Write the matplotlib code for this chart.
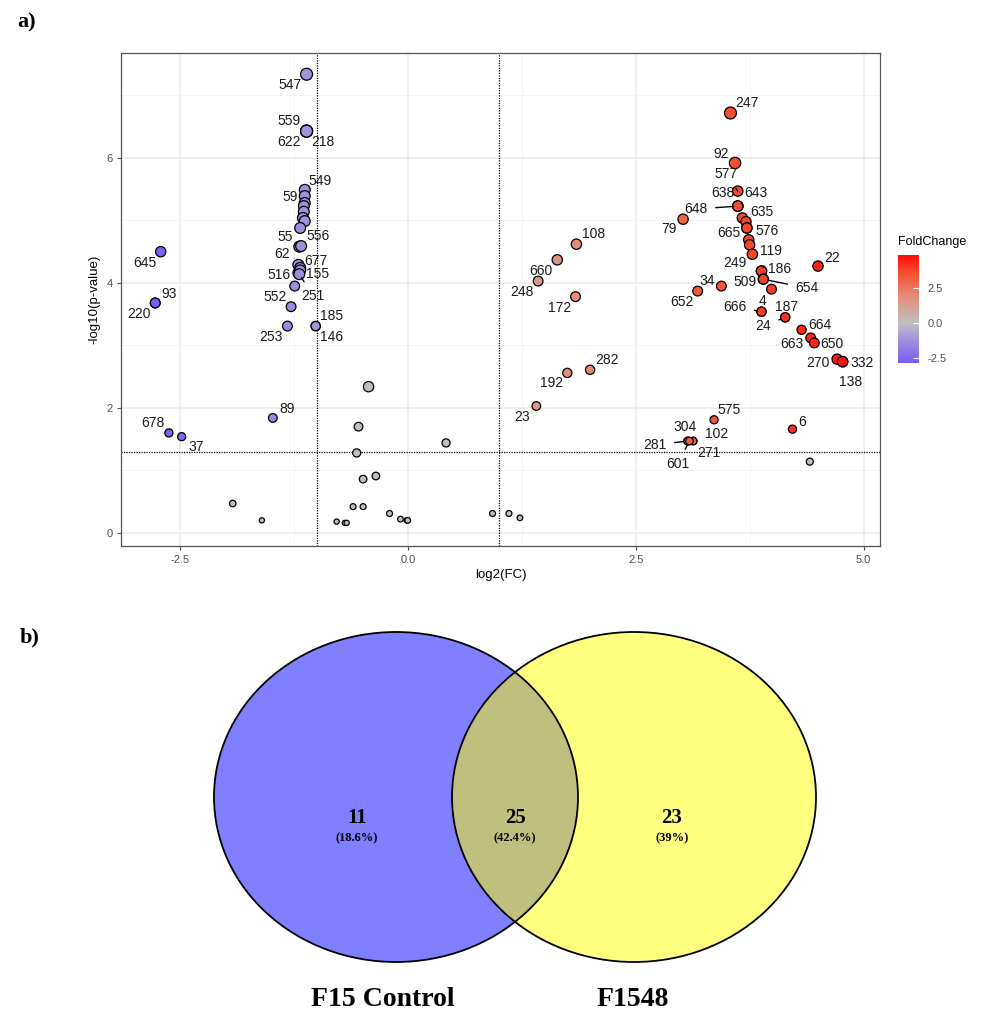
import matplotlib
matplotlib.use("Agg")
import matplotlib.pyplot as plt
import numpy as np
from matplotlib.colors import LinearSegmentedColormap, Normalize
from matplotlib.patches import Ellipse
from matplotlib.cm import ScalarMappable

plt.rcParams['font.family'] = ['Liberation Sans', 'DejaVu Sans']

# ---------------- volcano data ----------------
labels = ["547", "559", "622", "218", "549", "59", "", "", "", "", "", "",
          "55", "556", "62", "677", "516", "155", "251", "", "552", "253",
          "185", "146", "645", "93", "220", "678", "37", "89",
          # grey / non-significant
          "", "", "", "", "", "", "", "", "", "",
          "", "", "", "", "", "", "", "", "", "", "",
          # right side
          "247", "92", "577", "638", "643", "648", "79", "635", "", "665", "576",
          "", "", "249", "119", "186", "509", "654", "", "22", "34", "652",
          "4", "666", "187", "24", "664", "663", "650", "270", "332", "138",
          "575", "6", "304", "102", "281", "271", "601",
          "108", "660", "248", "172", "282", "192", "23"]
log2fc = [-1.11, -1.11, -1.11, -1.11, -1.13, -1.13, -1.13, -1.14, -1.14, -1.15, -1.13, -1.18,
          -1.19, -1.17, -1.20, -1.18, -1.20, -1.18, -1.19, -1.24, -1.28, -1.32,
          -1.01, -1.01, -2.71, -2.77, -2.77, -2.62, -2.48, -1.48,
          -0.43, -0.54, -0.56, 0.42, -0.35, -0.49, -1.92, -1.60, -0.60, -0.49,
          -0.78, -0.69, -0.67, -0.20, -0.08, -0.01, 0.00, 0.93, 1.11, 1.23, 4.41,
          3.54, 3.59, 3.62, 3.62, 3.62, 3.62, 3.02, 3.67, 3.71, 3.72, 3.72,
          3.74, 3.75, 3.78, 3.88, 3.88, 3.90, 3.90, 3.99, 4.50, 3.44, 3.18,
          3.88, 3.88, 4.14, 4.14, 4.32, 4.42, 4.46, 4.71, 4.77, 4.77,
          3.36, 4.22, 3.07, 3.13, 3.07, 3.13, 3.09,
          1.85, 1.64, 1.43, 1.84, 2.00, 1.75, 1.41]
neglog10p = [7.34, 6.43, 6.43, 6.43, 5.49, 5.39, 5.28, 5.23, 5.14, 5.04, 4.99, 4.88,
             4.58, 4.59, 4.29, 4.24, 4.16, 4.20, 4.14, 3.95, 3.62, 3.31,
             3.31, 3.31, 4.50, 3.68, 3.68, 1.60, 1.54, 1.84,
             2.34, 1.70, 1.28, 1.44, 0.91, 0.86, 0.47, 0.20, 0.42, 0.42,
             0.18, 0.16, 0.16, 0.31, 0.22, 0.20, 0.20, 0.31, 0.31, 0.24, 1.14,
             6.72, 5.92, 5.47, 5.23, 5.23, 5.23, 5.02, 5.04, 4.98, 4.88, 4.88,
             4.69, 4.61, 4.46, 4.19, 4.19, 4.06, 4.06, 3.90, 4.27, 3.95, 3.87,
             3.54, 3.54, 3.45, 3.45, 3.25, 3.12, 3.04, 2.78, 2.74, 2.74,
             1.81, 1.66, 1.47, 1.47, 1.47, 1.47, 1.47,
             4.62, 4.37, 4.03, 3.78, 2.61, 2.56, 2.03]
point_size = [11, 11, 11, 11, 10, 10, 10, 10, 10, 10, 10, 10,
              10, 10, 10, 10, 10, 10, 10, 9, 9, 9,
              8.5, 8.5, 9.5, 9, 9, 7.5, 7.5, 8,
              9.5, 8, 7.5, 7.5, 7, 7, 6, 4.8, 5.5, 5.5,
              4.8, 4.8, 4.8, 5.5, 5.2, 5.2, 5.2, 5.5, 5.5, 5.2, 6.5,
              11, 10.5, 9.5, 9.5, 9.5, 9.5, 9.5, 9.5, 9.5, 9.5, 9.5,
              9.5, 9.5, 9.5, 9.5, 9.5, 9.5, 9, 9, 9.5, 9, 9,
              8.5, 8.5, 8.5, 8.5, 8.5, 9, 9, 9.5, 9.5, 9.5,
              7.5, 7.5, 7, 7, 7, 7, 7,
              9.5, 9.5, 9, 9, 8.5, 8.5, 8]

x_ticks = [-2.5, 0.0, 2.5, 5.0]
y_ticks = [0, 2, 4, 6]
fc_cut = 1.0
p_cut = 1.3

# label offsets in pixels (dx right, dy down) and whether a leader line is drawn
label_pos = {
    "547": (-17, 11, False), "559": (-18, -10, False), "622": (-18, 11, False),
    "218": (16, 11, False), "549": (15, -9, False), "59": (-15, 1, False),
    "55": (-14, -10, False), "556": (17, -10, False), "62": (-16, -11, False),
    "677": (16, -7, False), "516": (-19, 2, False), "155": (17, 4, False),
    "251": (14, 22, True), "552": (-16, -10, False), "253": (-16, 11, False),
    "185": (16, -10, False), "146": (16, 11, False), "645": (-16, 11, False),
    "93": (14, -9, False), "220": (-16, 11, False), "678": (-16, -10, False),
    "37": (14, 10, False), "89": (14, -9, False),
    "247": (16, -10, False), "92": (-14, -9, False), "577": (-12, -17, True),
    "638": (-15, -13, False), "643": (18, -13, True), "648": (-42, 3, True),
    "79": (-14, 10, False), "635": (20, -6, False), "665": (-18, 5, False),
    "576": (20, 3, False), "249": (-17, 9, False), "119": (9, -20, True),
    "186": (18, -2, False), "509": (-18, 3, False), "654": (44, 9, True),
    "22": (14, -8, False), "34": (-14, -5, False), "652": (-16, 11, False),
    "4": (1, -11, False), "666": (-27, -5, True), "187": (1, -10, False),
    "24": (-22, 9, True), "664": (18, -5, False), "663": (-19, 6, False),
    "650": (18, 1, False), "270": (-19, 4, False), "332": (19, 1, False),
    "138": (8, 20, True), "575": (15, -10, False), "6": (10, -7, False),
    "304": (-3, -14, False), "102": (24, -7, False), "281": (-33, 4, True),
    "271": (16, 12, False), "601": (-12, 23, True),
    "108": (17, -10, False), "660": (-16, 11, False), "248": (-16, 11, False),
    "172": (-16, 11, False), "282": (17, -10, False), "192": (-16, 10, False),
    "23": (-14, 11, False),
}

# ---------------- venn data ----------------
venn_sets = ["F15 Control", "F1548"]
venn_counts = [11, 25, 23]
venn_pcts = ["(18.6%)", "(42.4%)", "(39%)"]

# ---------------- figure ----------------
W, H = 987, 1013
fig = plt.figure(figsize=(W / 100, H / 100), dpi=100)

x = np.array(log2fc)
y = np.array(neglog10p)
d = np.array(point_size)
sig = (y >= p_cut) & (np.abs(x) >= fc_cut)

vmin, vmax = x[sig].min() - 0.08, x[sig].max() + 0.13
z = (0 - vmin) / (vmax - vmin)
cmap = LinearSegmentedColormap.from_list("fc", [
    (0.0, (0.47, 0.36, 0.95)),
    (z * 0.55, (0.62, 0.55, 0.88)),
    (z, (0.75, 0.75, 0.75)),
    (z + (1 - z) * 0.4, (0.89, 0.55, 0.47)),
    (z + (1 - z) * 0.75, (0.96, 0.30, 0.18)),
    (1.0, (1.0, 0.05, 0.03)),
])
norm = Normalize(vmin=vmin, vmax=vmax)
colors = [cmap(norm(v)) if s else (0.75, 0.75, 0.75, 1) for v, s in zip(x, sig)]

ax = fig.add_axes([121.5 / W, 1 - 546 / H, (880 - 121.5) / W, (546 - 53) / H])
ax.set_xlim(-3.14, 5.18)
ax.set_ylim(-0.21, 7.68)
ax.set_xticks(x_ticks)
ax.set_xticklabels([f"{t:.1f}" for t in x_ticks])
ax.set_yticks(y_ticks)
ax.set_xticks([-1.25, 1.25, 3.75], minor=True)
ax.set_yticks([1, 3, 5, 7], minor=True)
ax.grid(True, which='major', color='#EBEBEB', lw=1.1)
ax.grid(True, which='minor', color='#F2F2F2', lw=0.6)
ax.set_axisbelow(True)
ax.tick_params(which='minor', length=0)
ax.tick_params(which='major', length=3, color='#4D4D4D', labelsize=8,
               labelcolor='#4D4D4D', width=0.8)
for s in ax.spines.values():
    s.set_color('#555555')
    s.set_linewidth(0.9)

ax.axvline(-fc_cut, color='black', ls=(0, (1, 1)), lw=0.9, zorder=1)
ax.axvline(fc_cut, color='black', ls=(0, (1, 1)), lw=0.9, zorder=1)
ax.axhline(p_cut, color='black', ls=(0, (1, 1)), lw=0.9, zorder=1)

ax.scatter(x, y, s=(d * 0.78) ** 2, c=colors, edgecolors='black',
           linewidths=0.9, zorder=3)

for xi, yi, lab in zip(x, y, labels):
    if not lab:
        continue
    dx, dy, leader = label_pos[lab]
    kw = {}
    if leader:
        kw['arrowprops'] = dict(arrowstyle='-', color='black', lw=1.0,
                                shrinkA=4, shrinkB=3)
    ax.annotate(lab, (xi, yi), xytext=(dx, -dy), textcoords='offset pixels',
                ha='center', va='center', fontsize=10, color='#1A1A1A',
                zorder=4, **kw)

ax.set_xlabel("log2(FC)", fontsize=9.5, labelpad=3)
ax.set_ylabel("-log10(p-value)", fontsize=9.5, labelpad=4)

# colorbar
cax = fig.add_axes([898 / W, 1 - 363 / H, 21 / W, 108 / H])
sm = ScalarMappable(norm=norm, cmap=cmap)
cb = fig.colorbar(sm, cax=cax, ticks=[-2.5, 0.0, 2.5])
cb.outline.set_visible(False)
cb.ax.set_yticklabels(["-2.5", "0.0", "2.5"])
cb.ax.tick_params(direction='in', color='white', length=4, width=0.8,
                  labelsize=8, labelcolor='#4D4D4D', pad=6)
fig.text(898 / W, 1 - 242 / H, "FoldChange", fontsize=9, ha='left', va='center')

# ---------------- venn ----------------
vax = fig.add_axes([0, 0, 1, 1])
vax.set_xlim(0, W)
vax.set_ylim(H, 0)
vax.axis('off')
vax.patch.set_visible(False)
cy = 797
ew, eh = 364, 330
left = Ellipse((396, cy), ew, eh, facecolor=(0, 0, 1, 0.5), edgecolor='none')
right = Ellipse((634, cy), ew, eh, facecolor=(1, 1, 0, 0.5), edgecolor='none')
vax.add_patch(left)
vax.add_patch(right)
for cx in (396, 634):
    vax.add_patch(Ellipse((cx, cy), ew, eh, facecolor='none', edgecolor='black', lw=1.3))

serif = ['Liberation Serif', 'DejaVu Serif']
for cx, cnt, pct in zip([357, 515, 672], venn_counts, venn_pcts):
    vax.text(cx, 818, str(cnt), ha='center', va='center', fontsize=15,
             fontweight='bold', family=serif)
    vax.text(cx, 838, pct, ha='center', va='center', fontsize=9,
             fontweight='bold', family=serif)
for cx, name in zip([383, 633], venn_sets):
    vax.text(cx, 999, name, ha='center', va='center', fontsize=20,
             fontweight='bold', family=serif)

fig.text(27 / W, 1 - 22 / H, "a)", fontsize=16, fontweight='bold', family=serif,
         ha='center', va='center')
fig.text(30 / W, 1 - 637 / H, "b)", fontsize=16, fontweight='bold', family=serif,
         ha='center', va='center')

fig.savefig("out.png", dpi=100)
